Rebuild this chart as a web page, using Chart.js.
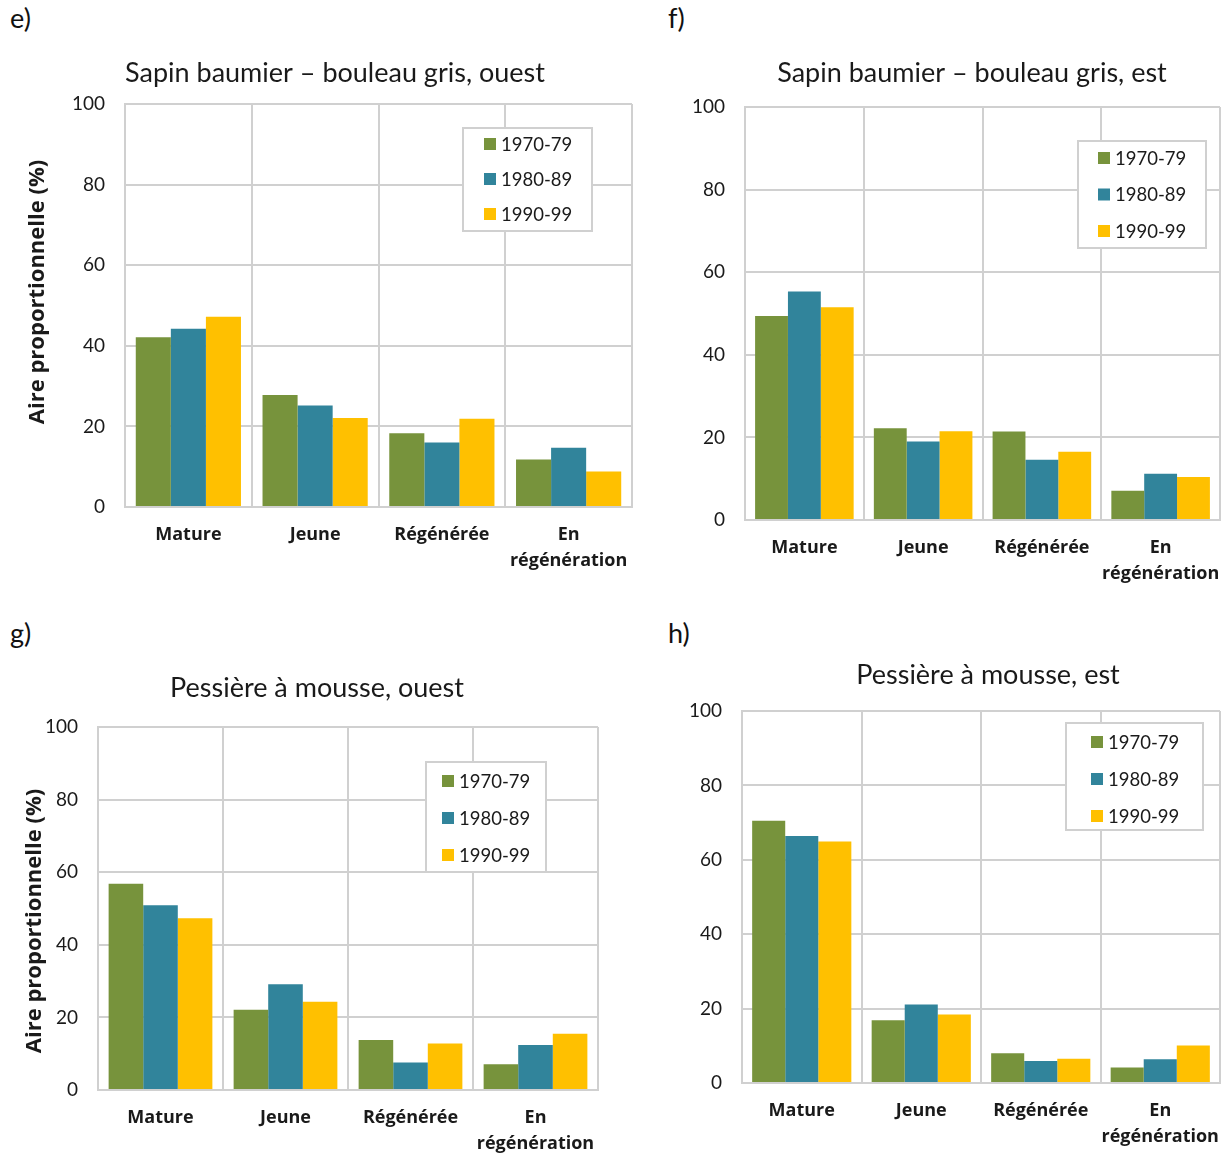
<!DOCTYPE html>
<html lang="fr">
<head>
  <meta charset="UTF-8">
  <title>Aire proportionnelle par stade</title>
  <script src="https://cdn.jsdelivr.net/npm/chart.js"></script>
  <style>
    html, body { margin: 0; padding: 0; background: #fff; overflow: hidden; }
    body { width: 1222px; height: 1155px; position: relative; font-family: Lato, sans-serif; }
    canvas { position: absolute; }
    .panel { position: absolute; font-size: 27px; color: #111; line-height: 1; }
  </style>
</head>
<body>
  <div class="panel" style="left:10px; top:4px;">e)</div>
  <div class="panel" style="left:668px; top:4px;">f)</div>
  <div class="panel" style="left:10px; top:619px;">g)</div>
  <div class="panel" style="left:668px; top:619px;">h)</div>

  <canvas id="chartE" width="660" height="580" style="left:0; top:0;"></canvas>
  <canvas id="chartF" width="640" height="590" style="left:640px; top:0;"></canvas>
  <canvas id="chartG" width="640" height="545" style="left:0; top:610px;"></canvas>
  <canvas id="chartH" width="640" height="545" style="left:640px; top:610px;"></canvas>

  <script>
    // categories et périodes
    const categories = ['Mature', 'Jeune', 'Régénérée', ['En', 'régénération']];
    const periods = ['1970-79', '1980-89', '1990-99'];
    const periodColors = ['#77933C', '#31849B', '#FFC000'];

    // e) Sapin baumier – bouleau gris, ouest
    const sbOuest7079 = [42.1, 27.8, 18.3, 11.8];
    const sbOuest8089 = [44.2, 25.2, 16.0, 14.7];
    const sbOuest9099 = [47.2, 22.1, 21.9, 8.8];

    // f) Sapin baumier – bouleau gris, est
    const sbEst7079 = [49.4, 22.2, 21.4, 7.1];
    const sbEst8089 = [55.3, 19.0, 14.6, 11.2];
    const sbEst9099 = [51.5, 21.5, 16.5, 10.4];

    // g) Pessière à mousse, ouest
    const pmOuest7079 = [56.8, 22.1, 13.8, 7.1];
    const pmOuest8089 = [50.9, 29.1, 7.6, 12.4];
    const pmOuest9099 = [47.3, 24.3, 12.8, 15.5];

    // h) Pessière à mousse, est
    const pmEst7079 = [70.5, 16.9, 8.0, 4.2];
    const pmEst8089 = [66.4, 21.1, 5.9, 6.4];
    const pmEst9099 = [64.9, 18.4, 6.5, 10.1];

    const yTicks = [0, 20, 40, 60, 80, 100];
    const yTitleText = 'Aire proportionnelle (%)';

    const gridColor = '#d0d0d0';
    const textColor = '#1a1a1a';
    const boldFamily = "'Open Sans', Lato, sans-serif";

    // titre, titre d'axe y et légende encadrée, placés à la main
    const panelDecor = {
      id: 'panelDecor',
      afterDraw(chart, args, o) {
        const ctx = chart.ctx;
        ctx.save();
        // titre du graphique
        ctx.fillStyle = textColor;
        ctx.font = '27px Lato';
        ctx.textAlign = 'center';
        ctx.textBaseline = 'middle';
        ctx.fillText(o.title, o.titleX, o.titleY);

        // titre de l'axe y
        if (o.yTitle) {
          ctx.save();
          ctx.translate(o.yTitle.x, o.yTitle.y);
          ctx.rotate(-Math.PI / 2);
          ctx.font = 'bold 22px ' + boldFamily;
          ctx.fillText(yTitleText, 0, 0);
          ctx.restore();
        }

        // légende
        const L = o.legend;
        ctx.fillStyle = '#fff';
        ctx.fillRect(L.x, L.y, L.w, L.h);
        ctx.strokeStyle = gridColor;
        ctx.lineWidth = 2;
        ctx.strokeRect(L.x, L.y, L.w, L.h);
        ctx.font = '18.5px Lato';
        ctx.textAlign = 'left';
        chart.data.datasets.forEach((ds, i) => {
          const cy = L.y + L.first + i * L.gap;
          ctx.fillStyle = ds.backgroundColor;
          ctx.fillRect(L.x + L.sq, cy - 6, 12, 12);
          ctx.fillStyle = textColor;
          ctx.fillText(ds.label, L.x + L.sq + 17, cy + 1);
        });
        ctx.restore();
      }
    };

    function makeChart(id, title, series, cfg) {
      const ctx = document.getElementById(id).getContext('2d');
      return new Chart(ctx, {
        type: 'bar',
        data: {
          labels: categories,
          datasets: series.map((vals, i) => ({
            label: periods[i],
            data: vals,
            backgroundColor: periodColors[i],
            borderWidth: 0,
            categoryPercentage: 0.83,
            barPercentage: 1.0
          }))
        },
        options: {
          responsive: false,
          animation: false,
          devicePixelRatio: 1,
          layout: { padding: { left: 0, right: cfg.padRight, top: cfg.padTop, bottom: 0 } },
          plugins: {
            legend: { display: false },
            tooltip: { enabled: false },
            title: { display: false },
            panelDecor: {
              title: title,
              titleX: cfg.titleX,
              titleY: cfg.titleY,
              yTitle: cfg.yTitle,
              legend: cfg.legend
            }
          },
          scales: {
            x: {
              grid: { color: gridColor, lineWidth: 2, drawTicks: false, offset: true },
              border: { color: gridColor, width: 2 },
              ticks: {
                color: textColor,
                padding: cfg.xPad,
                maxRotation: 0,
                autoSkip: false,
                font: { family: boldFamily, size: 18, weight: 'bold', lineHeight: 1.45 }
              },
              afterFit: s => { s.height = cfg.xHeight; }
            },
            y: {
              min: 0,
              max: 100,
              afterBuildTicks: s => { s.ticks = yTicks.map(v => ({ value: v })); },
              grid: { color: gridColor, lineWidth: 2, drawTicks: false },
              border: { color: gridColor, width: 2 },
              ticks: {
                color: textColor,
                padding: 20,
                font: { family: 'Lato', size: 19 }
              },
              afterFit: s => { s.width = cfg.yWidth; }
            }
          }
        },
        plugins: [panelDecor]
      });
    }

    makeChart('chartE', 'Sapin baumier – bouleau gris, ouest',
      [sbOuest7079, sbOuest8089, sbOuest9099], {
        padRight: 28, padTop: 104, xHeight: 73, xPad: 15, yWidth: 125,
        titleX: 335, titleY: 73,
        yTitle: { x: 38, y: 292 },
        legend: { x: 463, y: 128, w: 129, h: 103, first: 16, gap: 35, sq: 21 }
      });

    makeChart('chartF', 'Sapin baumier – bouleau gris, est',
      [sbEst7079, sbEst8089, sbEst9099], {
        padRight: 60, padTop: 107, xHeight: 70, xPad: 15, yWidth: 105,
        titleX: 332, titleY: 73,
        yTitle: null,
        legend: { x: 438, y: 141, w: 128, h: 107, first: 17, gap: 36.5, sq: 20 }
      });

    makeChart('chartG', 'Pessière à mousse, ouest',
      [pmOuest7079, pmOuest8089, pmOuest9099], {
        padRight: 42, padTop: 117, xHeight: 65, xPad: 15, yWidth: 98,
        titleX: 317, titleY: 78,
        yTitle: { x: 35, y: 311 },
        legend: { x: 426, y: 152, w: 120, h: 110, first: 19, gap: 37, sq: 16 }
      });

    makeChart('chartH', 'Pessière à mousse, est',
      [pmEst7079, pmEst8089, pmEst9099], {
        padRight: 60, padTop: 101, xHeight: 72, xPad: 15, yWidth: 102,
        titleX: 348, titleY: 65,
        yTitle: null,
        legend: { x: 426, y: 113, w: 137, h: 107, first: 19, gap: 37, sq: 25 }
      });
  </script>
</body>
</html>
